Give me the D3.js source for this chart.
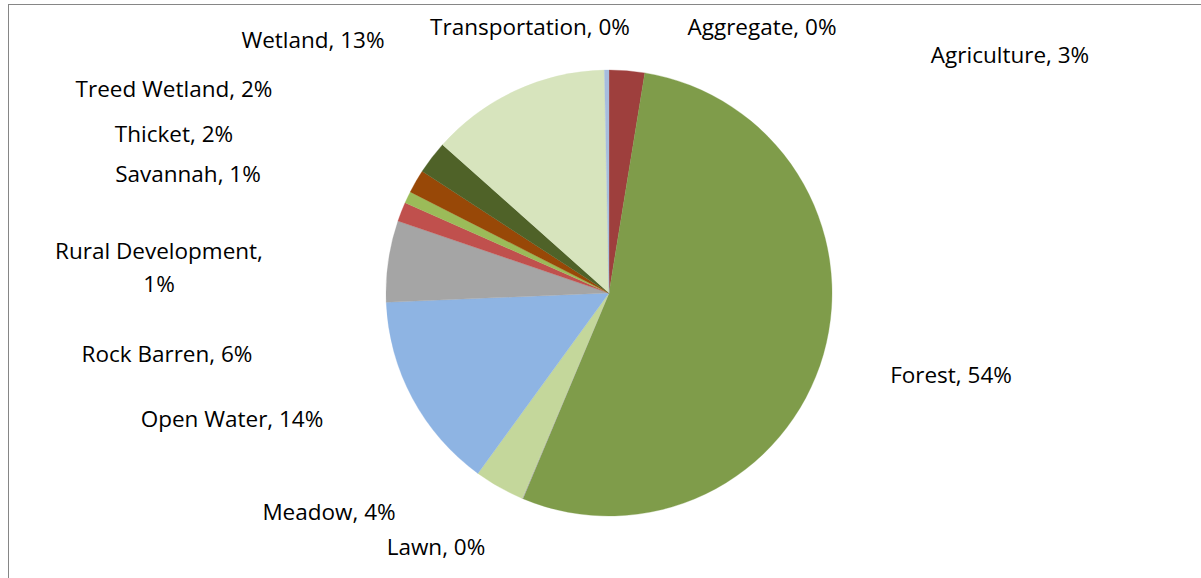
<!DOCTYPE html>
<html>
<head>
<meta charset="utf-8">
<script src="https://cdn.jsdelivr.net/npm/d3@7"></script>
<style>
  html, body { margin: 0; padding: 0; background: #fff; }
  svg { display: block; }
</style>
</head>
<body>
<svg id="chart" width="1201" height="578"></svg>
<script>
// ---- data ----
const categories = ["Aggregate", "Agriculture", "Forest", "Lawn", "Meadow", "Open Water",
  "Rock Barren", "Rural Development", "Savannah", "Thicket", "Treed Wetland", "Wetland", "Transportation"];
const values = [0.0, 2.57, 53.8, 0.05, 3.65, 14.35, 5.9, 1.4, 0.86, 1.7, 2.4, 13.1, 0.33];

// ---- styles / layout (kept separate from data) ----
const colors = ["#4F81BD", "#9E3F3D", "#7F9C4A", "#A5A5A5", "#C4D79B", "#8EB4E3",
  "#A5A5A5", "#C0504D", "#9BBB59", "#984807", "#4F6228", "#D7E4BD", "#A7BDDE"];
// label anchors (text centre x, first baseline y)
const labelPos = [[762, 35], [1010, 63], [951, 383], [436, 555], [329, 520], [232, 427],
  [167, 362], [159, 259], [188, 182], [174, 142], [174, 97], [313, 48], [530, 35]];
const labelBreak = { "Rural Development": true };

const svg = d3.select("#chart");
const W = 1201, H = 578;
const cx = 609, cy = 293, R = 223;

// chart border (only top & left visible in reference)
svg.append("rect")
  .attr("x", 8.5).attr("y", 4.5)
  .attr("width", W + 20).attr("height", H + 20)
  .attr("fill", "none").attr("stroke", "#868686").attr("stroke-width", 1);

const total = d3.sum(values);
const pie = d3.pie().sort(null).value(d => d.v).startAngle(0).endAngle(2 * Math.PI);
const data = categories.map((c, i) => ({ name: c, v: values[i], i }));
const arcs = pie(data);
const arc = d3.arc().innerRadius(0).outerRadius(R);

const g = svg.append("g").attr("transform", `translate(${cx},${cy})`);
g.selectAll("path").data(arcs).enter().append("path")
  .attr("d", arc)
  .attr("fill", d => colors[d.data.i])
  .attr("stroke", d => colors[d.data.i])
  .attr("stroke-width", 0.3);

const fmt = v => Math.round(v / total * 100) + "%";
const labels = svg.append("g")
  .attr("font-family", "'Open Sans', Carlito, Calibri, sans-serif")
  .attr("font-size", 22.5)
  .attr("fill", "#000")
  .attr("text-anchor", "middle");

arcs.forEach(d => {
  const [x, y] = labelPos[d.data.i];
  const t = labels.append("text").attr("x", x).attr("y", y);
  if (labelBreak[d.data.name]) {
    t.append("tspan").attr("x", x).attr("y", y).text(d.data.name + ",");
    t.append("tspan").attr("x", x).attr("y", y + 33).text(fmt(d.data.v));
  } else {
    t.text(d.data.name + ", " + fmt(d.data.v));
  }
});
</script>
</body>
</html>
